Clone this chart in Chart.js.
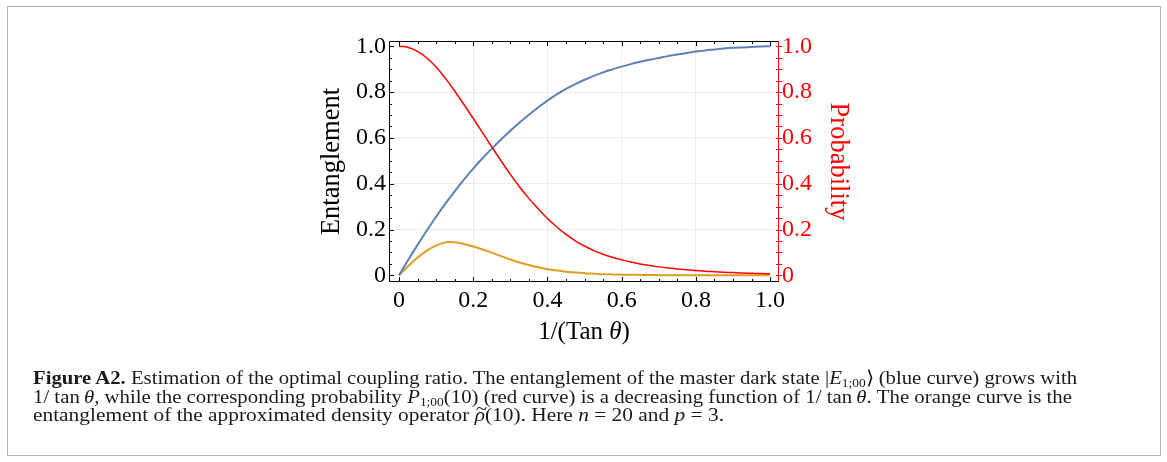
<!DOCTYPE html>
<html>
<head>
<meta charset="utf-8">
<script src="https://cdn.jsdelivr.net/npm/chart.js@4"></script>
<style>
  body { margin: 0; background: #fff; }
  #frame { position: absolute; left: 7px; top: 6px; width: 1152px; height: 448px; border: 1px solid #b4b4b4; }
  #plot { position: absolute; left: 0; top: 0; }
  .cap { position: absolute; left: 33px; font-family: 'Liberation Serif', serif; font-size: 18.5px; line-height: 18px; white-space: nowrap; color: #1a1a1a; transform-origin: 0 50%; }
  .cap sub { font-size: 12px; vertical-align: -3px; line-height: 0; }
  .cap i { font-style: italic; }
  .tl { position: relative; display: inline-block; }
  .tl span { position: absolute; left: 1px; top: -6px; font-style: normal; }
</style>
</head>
<body>
<div id="frame"></div>
<canvas id="plot" width="1167" height="462"></canvas>
<div class="cap" data-w="1044" style="top:369px"><b>Figure A2.</b> Estimation of the optimal coupling ratio. The entanglement of the master dark state |<i>E</i><sub>1;00</sub>⟩ (blue curve) grows with</div>
<div class="cap" data-w="1039" style="top:387.5px">1/ tan&thinsp;<i>θ</i>, while the corresponding probability <i>P</i><sub>1;00</sub>(10) (red curve) is a decreasing function of 1/ tan&thinsp;<i>θ</i>. The orange curve is the</div>
<div class="cap" data-w="691" style="top:406px">entanglement of the approximated density operator <i class="tl">ρ<span>~</span></i>(10). Here <i>n</i> = 20 and <i>p</i> = 3.</div>
<script>
// 1/tan(theta), step 0.025
const xValues = [0, 0.025, 0.05, 0.075, 0.1, 0.125, 0.15, 0.175, 0.2, 0.225, 0.25, 0.275, 0.3, 0.325,
  0.35, 0.375, 0.4, 0.425, 0.45, 0.475, 0.5, 0.525, 0.55, 0.575, 0.6, 0.625, 0.65, 0.675, 0.7, 0.725,
  0.75, 0.775, 0.8, 0.825, 0.85, 0.875, 0.9, 0.925, 0.95, 0.975, 1.0];
// entanglement of the master dark state (blue)
const entanglement = [0, 0.068, 0.133, 0.196, 0.256, 0.313, 0.367, 0.418, 0.466, 0.511, 0.553, 0.593, 0.631,
  0.667, 0.701, 0.733, 0.763, 0.790, 0.814, 0.835, 0.854, 0.871, 0.886, 0.899, 0.911, 0.922, 0.932, 0.941,
  0.949, 0.957, 0.964, 0.971, 0.977, 0.982, 0.986, 0.990, 0.993, 0.995, 0.997, 0.999, 1.0];
// probability P_1;00(10) (red, right axis)
const probability = [1.0, 0.995, 0.978, 0.949, 0.909, 0.860, 0.805, 0.746, 0.685, 0.623, 0.561, 0.500, 0.441,
  0.386, 0.336, 0.291, 0.248, 0.211, 0.179, 0.151, 0.128, 0.108, 0.092, 0.079, 0.068, 0.058, 0.050, 0.043,
  0.037, 0.032, 0.028, 0.024, 0.021, 0.018, 0.016, 0.014, 0.012, 0.010, 0.009, 0.008, 0.007];
// entanglement of the approximated density operator (orange)
const approxEntanglement = [0, 0.041, 0.078, 0.108, 0.13, 0.144, 0.144, 0.137, 0.126, 0.113, 0.099, 0.084, 0.069,
  0.056, 0.045, 0.035, 0.027, 0.021, 0.016, 0.012, 0.009, 0.007, 0.005, 0.004, 0.003, 0.0025, 0.002, 0.0015,
  0.001, 0.0008, 0.0006, 0.0005, 0.0004, 0.0003, 0.0002, 0.0002, 0.0001, 0.0001, 0.0001, 0, 0];
const tickValues = [0, 0.2, 0.4, 0.6, 0.8, 1.0];

const serif = "'Liberation Serif', serif";
const pts = ys => xValues.map((x, i) => ({ x: x, y: ys[i] }));
const fmt = v => Math.abs(v) < 1e-9 ? '0' : v.toFixed(1);
const gridColor = ctx => {
  const v = ctx.tick.value;
  return (v > 0.01 && v < 0.99) ? '#ebebeb' : 'rgba(0,0,0,0)';
};

// frame, inward tick marks and the x title with italic theta
const framePlugin = {
  id: 'frame',
  afterDatasetsDraw(chart) {
    const { ctx, chartArea: a, scales } = chart;
    const sx = scales.x, sy = scales.y;
    ctx.save();
    ctx.lineWidth = 1;
    ctx.strokeStyle = '#000';
    ctx.beginPath();
    ctx.moveTo(a.right, a.top + 0.5); ctx.lineTo(a.left + 0.5, a.top + 0.5);
    ctx.lineTo(a.left + 0.5, a.bottom - 0.5); ctx.lineTo(a.right, a.bottom - 0.5);
    for (let k = 0; k <= 20; k++) {
      const v = k * 0.05;
      const len = k % 4 === 0 ? 5 : 3;
      const px = Math.round(sx.getPixelForValue(v)) + 0.5;
      ctx.moveTo(px, a.bottom); ctx.lineTo(px, a.bottom - len);
      ctx.moveTo(px, a.top); ctx.lineTo(px, a.top + len);
      const py = Math.round(sy.getPixelForValue(v)) + 0.5;
      ctx.moveTo(a.left, py); ctx.lineTo(a.left + len, py);
    }
    ctx.stroke();
    ctx.strokeStyle = '#ff0000';
    ctx.beginPath();
    ctx.moveTo(a.right - 0.5, a.top); ctx.lineTo(a.right - 0.5, a.bottom);
    for (let k = 0; k <= 20; k++) {
      const v = k * 0.05;
      const py = Math.round(sy.getPixelForValue(v)) + 0.5;
      ctx.moveTo(a.right - 3, py); ctx.lineTo(a.right + 3, py);
    }
    ctx.stroke();

    // x axis title: 1/(Tan θ)
    const y = 332;
    const parts = [['1/(Tan ', 'normal'], ['θ', 'italic'], [')', 'normal']];
    let w = 0;
    parts.forEach(p => { ctx.font = p[1] + ' 25px ' + serif; w += ctx.measureText(p[0]).width; });
    let x = (a.left + a.right) / 2 - w / 2;
    ctx.fillStyle = '#000';
    ctx.textBaseline = 'middle';
    parts.forEach(p => {
      ctx.font = p[1] + ' 25px ' + serif;
      ctx.fillText(p[0], x, y);
      x += ctx.measureText(p[0]).width;
    });
    ctx.restore();
  }
};

new Chart(document.getElementById('plot'), {
  type: 'line',
  data: {
    datasets: [
      { label: 'Probability', data: pts(probability), yAxisID: 'y2', borderColor: '#ff0000', borderWidth: 1.5 },
      { label: 'Entanglement', data: pts(entanglement), yAxisID: 'y', borderColor: '#5e81b5', borderWidth: 2 },
      { label: 'Approximated', data: pts(approxEntanglement), yAxisID: 'y', borderColor: '#e19c24', borderWidth: 2 }
    ]
  },
  options: {
    responsive: false,
    animation: false,
    events: [],
    layout: { padding: { left: 316, right: 313, top: 41, bottom: 120 } },
    elements: {
      point: { radius: 0 },
      line: { tension: 0.4, fill: false }
    },
    plugins: { legend: { display: false }, tooltip: { enabled: false } },
    scales: {
      x: {
        type: 'linear', min: -0.027, max: 1.024,
        afterBuildTicks: s => { s.ticks = tickValues.map(v => ({ value: v })); },
        afterFit: s => { s.height = 60; },
        grid: { color: gridColor, drawTicks: false },
        border: { display: false },
        ticks: { padding: 4, color: '#000', font: { family: serif, size: 24 }, callback: fmt, maxRotation: 0 }
      },
      y: {
        type: 'linear', position: 'left', min: -0.029, max: 1.023,
        afterBuildTicks: s => { s.ticks = tickValues.map(v => ({ value: v })); },
        afterFit: s => { s.width = 73; },
        grid: { color: gridColor, drawTicks: false },
        border: { display: false },
        ticks: { padding: 3, color: '#000', font: { family: serif, size: 24 }, callback: fmt },
        title: { display: true, text: 'Entanglement', color: '#000', padding: 0, font: { family: serif, size: 26.5 } }
      },
      y2: {
        type: 'linear', position: 'right', min: -0.029, max: 1.023,
        afterBuildTicks: s => { s.ticks = tickValues.map(v => ({ value: v })); },
        afterFit: s => { s.width = 75; },
        grid: { display: false, drawTicks: false },
        border: { display: false },
        ticks: { padding: 3, color: '#ff0000', font: { family: serif, size: 24 }, callback: fmt },
        title: { display: true, text: 'Probability', color: '#ff0000', padding: 0, font: { family: serif, size: 26.5 } }
      }
    }
  },
  plugins: [framePlugin]
});

// stretch each caption line to its set width
document.querySelectorAll('.cap').forEach(el => {
  const w = el.getBoundingClientRect().width;
  el.style.transform = 'scaleX(' + (Number(el.dataset.w) / w) + ')';
});
</script>
</body>
</html>
